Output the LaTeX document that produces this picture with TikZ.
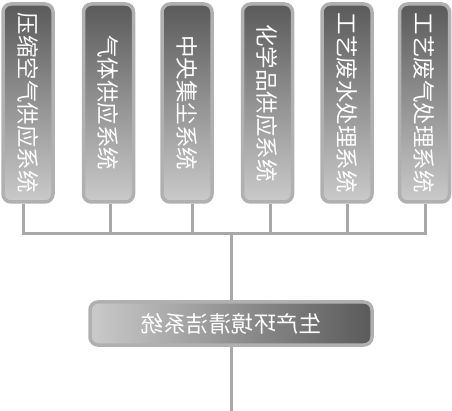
\documentclass[tikz,border=0pt]{standalone}
\usepackage{fontspec}
\usepackage{graphicx}
\newfontfamily\cjk{Noto Sans CJK SC}
\definecolor{ring}{HTML}{B0B0B0}
\definecolor{darkfill}{HTML}{5A5A5A}
\definecolor{lightfill}{HTML}{CACACA}
\definecolor{wire}{HTML}{A8A8A8}
\tikzset{
  topbox/.style={draw=ring, line width=3.5pt, rounded corners=8pt,
    top color=darkfill, bottom color=lightfill,
    minimum width=50pt, minimum height=198pt, inner sep=0pt,
    text=white, font=\cjk\fontsize{22.5}{24}\selectfont},
  basebox/.style={draw=ring, line width=3.5pt, rounded corners=8pt,
    left color=lightfill, right color=darkfill,
    minimum width=282pt, minimum height=43pt, inner sep=0pt,
    text=white, font=\cjk\fontsize{22.5}{24}\selectfont},
  wireline/.style={draw=wire, line width=3pt}
}
\newcommand{\vtext}[1]{\rotatebox{-90}{#1}}
\newcommand{\mtext}[1]{\scalebox{-1}[1]{#1}}
\begin{document}
\begin{tikzpicture}[x=1pt, y=-1pt]
  \useasboundingbox (0,0) rectangle (452,411);

  % junction on the bus and the free end of the outlet
  \coordinate (bus) at (231.5,234);
  \coordinate (out) at (231.5,411);

  % six supply systems
  \node[topbox] (b1) at (28,103)    {\vtext{压缩空气供应系统}};
  \node[topbox] (b2) at (108.5,103) {\vtext{气体供应系统}};
  \node[topbox] (b3) at (187,103)   {\vtext{中央集尘系统}};
  \node[topbox] (b4) at (267.5,103) {\vtext{化学品供应系统}};
  \node[topbox] (b5) at (347,103)   {\vtext{工艺废水处理系统}};
  \node[topbox] (b6) at (424.5,103) {\vtext{工艺废气处理系统}};

  % cleanroom system
  \node[basebox] (base) at (231,323.5) {\mtext{生产环境清洁系统}};

  % bus connecting every supply system
  \draw[wireline] ([xshift=-5pt]b1.south) |- ([xshift=0.5pt]b6.south |- bus) -- ([xshift=0.5pt]b6.south);
  \draw[wireline] ([xshift=2pt]b2.south) -- ([xshift=2pt]b2.south |- bus);
  \draw[wireline] ([xshift=5.5pt]b3.south) -- ([xshift=5.5pt]b3.south |- bus);
  \draw[wireline] ([xshift=2.5pt]b4.south) -- ([xshift=2.5pt]b4.south |- bus);
  \draw[wireline] (b5.south) -- (b5.south |- bus);
  \draw[wireline] (bus) -- (bus |- base.north);
  \draw[wireline] (bus |- base.south) -- (out);
\end{tikzpicture}
\end{document}
